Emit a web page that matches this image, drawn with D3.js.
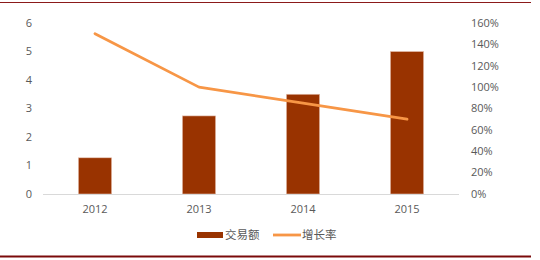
<!DOCTYPE html>
<html>
<head>
<meta charset="utf-8">
<script src="https://cdn.jsdelivr.net/npm/d3@7"></script>
<style>
  body { margin: 0; background: #fff; }
  text { font-family: "Open Sans", "Noto Sans CJK SC", sans-serif; font-size: 11px; fill: #595959; }
  .legend text { font-family: "Noto Sans CJK SC", sans-serif; font-size: 11.5px; }
</style>
</head>
<body>
<div id="chart"></div>
<script>
var years = ['2012', '2013', '2014', '2015']
var amount = [1.27, 2.74, 3.5, 5.0]       // 交易额
var growth = [1.5, 1.0, 0.85, 0.7]        // 增长率
var leftTicks = [0, 1, 2, 3, 4, 5, 6]
var rightTicks = [0, 0.2, 0.4, 0.6, 0.8, 1.0, 1.2, 1.4, 1.6]
var seriesNames = ['交易额', '增长率']

var width = 540, height = 260
var svg = d3.select('#chart').append('svg')
  .attr('width', width)
  .attr('height', height)

// frame lines top and bottom
svg.append('line').attr('x1', 0).attr('x2', 531).attr('y1', 2.5).attr('y2', 2.5)
  .attr('stroke', '#8b1a1a').attr('stroke-width', 1)
svg.append('line').attr('x1', 0).attr('x2', 531).attr('y1', 256.5).attr('y2', 256.5)
  .attr('stroke', '#7a0a0a').attr('stroke-width', 2)

var x = d3.scaleBand().domain(years).range([43, 459]).paddingInner(0.68).paddingOuter(0.34)
var yL = d3.scaleLinear().domain([0, 6]).range([194, 23])
var yR = d3.scaleLinear().domain([0, 1.6]).range([194, 23])

// left axis labels
svg.append('g').selectAll('text')
  .data(leftTicks)
  .enter().append('text')
  .attr('x', 32)
  .attr('y', d => yL(d))
  .attr('dy', '0.35em')
  .attr('text-anchor', 'end')
  .text(d => d)

// right axis labels
svg.append('g').selectAll('text')
  .data(rightTicks)
  .enter().append('text')
  .attr('x', 471)
  .attr('y', d => yR(d))
  .attr('dy', '0.35em')
  .text(d => Math.round(d * 100) + '%')

// bars
svg.append('g').selectAll('rect')
  .data(amount)
  .enter().append('rect')
  .attr('x', (d, i) => x(years[i]))
  .attr('y', d => yL(d))
  .attr('width', x.bandwidth())
  .attr('height', d => yL(0) - yL(d))
  .style('fill', '#993300')
  .style('stroke', '#e6c3b3')
  .style('stroke-width', 0.6)

// baseline
svg.append('line').attr('x1', 43).attr('x2', 459).attr('y1', 194.5).attr('y2', 194.5)
  .attr('stroke', '#d9d9d9').attr('stroke-width', 1)

// category labels
svg.append('g').selectAll('text')
  .data(years)
  .enter().append('text')
  .attr('x', d => x(d) + x.bandwidth() / 2)
  .attr('y', 209)
  .attr('dy', '0.35em')
  .attr('text-anchor', 'middle')
  .text(d => d)

// growth line
var line = d3.line()
  .x((d, i) => x(years[i]) + x.bandwidth() / 2)
  .y(d => yR(d))
svg.append('path')
  .datum(growth)
  .attr('d', line)
  .attr('fill', 'none')
  .attr('stroke', '#f79646')
  .attr('stroke-width', 2.8)
  .attr('stroke-linecap', 'round')
  .attr('stroke-linejoin', 'round')

// legend
var legend = svg.append('g').attr('class', 'legend')
legend.append('rect').attr('x', 197).attr('y', 232).attr('width', 26).attr('height', 6)
  .style('fill', '#993300')
legend.append('text').attr('x', 225).attr('y', 235).attr('dy', '0.35em').text(seriesNames[0])
legend.append('line').attr('x1', 273).attr('x2', 301).attr('y1', 235).attr('y2', 235)
  .attr('stroke', '#f79646').attr('stroke-width', 2.8)
legend.append('text').attr('x', 302).attr('y', 235).attr('dy', '0.35em').text(seriesNames[1])
</script>
</body>
</html>
